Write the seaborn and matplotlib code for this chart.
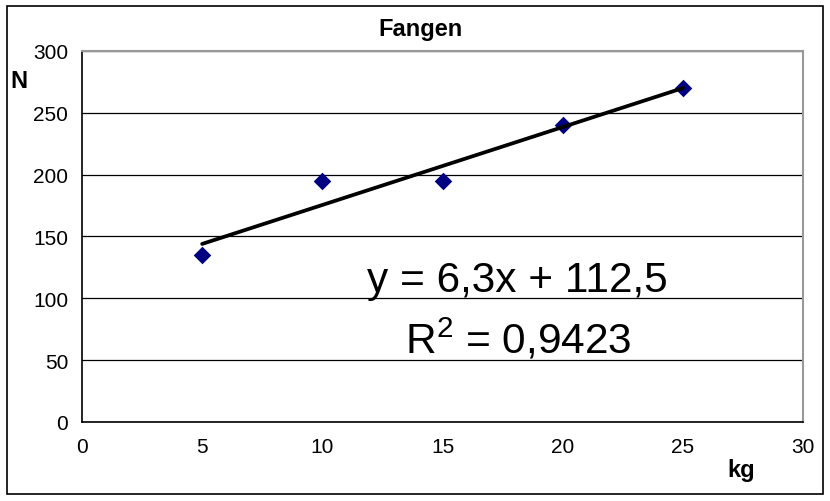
import matplotlib
matplotlib.use("Agg")
import matplotlib.pyplot as plt
import numpy as np
import seaborn as sns
from matplotlib.patches import Rectangle

# data
kg = [5, 10, 15, 20, 25]
newton = [135, 195, 195, 240, 270]
x_ticks = [0, 5, 10, 15, 20, 25, 30]
y_ticks = [0, 50, 100, 150, 200, 250, 300]
eq_text = "y = 6,3x + 112,5"
r2_text = r"R$^2$ = 0,9423"

sns.set_style("white")
plt.rcParams["font.family"] = ["Liberation Sans", "DejaVu Sans"]
plt.rcParams["text.color"] = "black"
plt.rcParams["mathtext.fontset"] = "custom"
plt.rcParams["mathtext.rm"] = "Liberation Sans"
plt.rcParams["mathtext.it"] = "Liberation Sans:italic"

fig = plt.figure(figsize=(8.3, 5.02), dpi=100)
ax = fig.add_axes([82 / 830, 1 - 423 / 502, 721 / 830, 371 / 502])

sns.regplot(x=kg, y=newton, ax=ax, ci=None, marker="D",
            scatter_kws={"color": "#000080", "s": 80, "alpha": 1,
                         "linewidths": 0, "zorder": 3},
            line_kws={"color": "black", "lw": 2.7, "zorder": 4})

ax.set_xlim(0, 30)
ax.set_ylim(0, 300)
ax.set_xticks(x_ticks)
ax.set_yticks(y_ticks)
ax.yaxis.grid(True, color="black", lw=0.9)
ax.set_axisbelow(True)
ax.tick_params(axis="both", direction="out", length=5, width=1,
               labelsize=15, colors="black", pad=5)
ax.tick_params(axis="x", pad=6)
ax.set_xlabel("")
ax.set_ylabel("")

for side in ["left", "bottom"]:
    ax.spines[side].set_color("black")
    ax.spines[side].set_linewidth(1.2)
for side in ["top", "right"]:
    ax.spines[side].set_color("#999999")
    ax.spines[side].set_linewidth(1.5)

fig.text(420 / 830, 1 - 30 / 502, "Fangen", ha="center", va="center",
         fontsize=17, fontweight="bold")
fig.text(19 / 830, 1 - 82 / 502, "N", ha="center", va="center",
         fontsize=17, fontweight="bold")
fig.text(741 / 830, 1 - 471 / 502, "kg", ha="center", va="center",
         fontsize=17, fontweight="bold")
fig.text(517 / 830, 1 - 281 / 502, eq_text, ha="center", va="center",
         fontsize=30.5)
fig.text(518 / 830, 1 - 340 / 502, r2_text, ha="center", va="center",
         fontsize=30.5)

fig.patches.append(Rectangle((7 / 830, 7 / 502), 816 / 830, 488 / 502,
                             transform=fig.transFigure, fill=False,
                             edgecolor="black", lw=1.2))

fig.savefig("out.png", dpi=100)
